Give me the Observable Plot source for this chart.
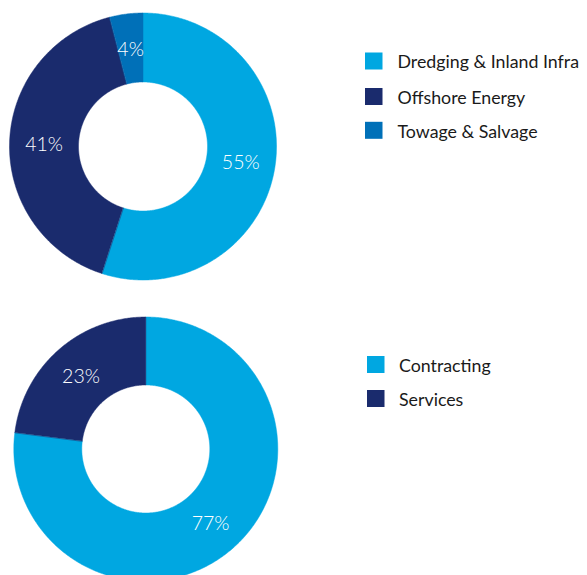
<!DOCTYPE html>
<html>
<head>
<meta charset="utf-8">
<script src="https://cdn.jsdelivr.net/npm/d3@7"></script>
<script src="https://cdn.jsdelivr.net/npm/@observablehq/plot@0.6"></script>
<style>
  html, body { margin: 0; padding: 0; background: #fff; }
  #chart svg { display: block; }
</style>
</head>
<body>
<div id="chart"></div>
<script>
// ---- Data ----
const segmentCategories = ["Dredging & Inland Infra", "Offshore Energy", "Towage & Salvage"];
const segmentValues = [55, 41, 4];
const segmentColors = ["#00A7E1", "#1A2B6D", "#0070B8"];

const activityCategories = ["Contracting", "Services"];
const activityValues = [77, 23];
const activityColors = ["#00A7E1", "#1A2B6D"];

// ---- Layout (pixels) ----
const W = 587, H = 575;
const donuts = [
  {cats: segmentCategories, vals: segmentValues, cols: segmentColors, cx: 142.5, cy: 146, r0: 64.5, r1: 133.5,
   legend: {sx: 365, tx: 397, ys: [61, 96.5, 130.3]}},
  {cats: activityCategories, vals: activityValues, cols: activityColors, cx: 145.3, cy: 448.5, r0: 64, r1: 132,
   legend: {sx: 367, tx: 398.5, ys: [364.5, 398.5]}}
];

const polys = [], labels = [], legendBoxes = [], legendTexts = [];
donuts.forEach((d, di) => {
  const total = d3.sum(d.vals);
  let acc = 0;
  d.vals.forEach((v, i) => {
    const a0 = acc / total * 2 * Math.PI;
    acc += v;
    const a1 = acc / total * 2 * Math.PI;
    const key = `${di}-${i}`;
    const n = Math.max(2, Math.ceil((a1 - a0) / (Math.PI / 360)));
    const pt = (r, a) => [d.cx + r * Math.sin(a), d.cy - r * Math.cos(a)];
    for (let k = 0; k <= n; k++) {
      const [x, y] = pt(d.r1, a0 + (a1 - a0) * k / n);
      polys.push({key, x, y, color: d.cols[i]});
    }
    for (let k = n; k >= 0; k--) {
      const [x, y] = pt(d.r0, a0 + (a1 - a0) * k / n);
      polys.push({key, x, y, color: d.cols[i]});
    }
    const am = (a0 + a1) / 2, rm = (d.r0 + d.r1) / 2;
    const [lx, ly] = pt(rm, am);
    labels.push({x: lx, y: ly, text: `${v}%`});
    legendBoxes.push({x1: d.legend.sx, x2: d.legend.sx + 17.5, y1: d.legend.ys[i] - 8.5, y2: d.legend.ys[i] + 8.5, color: d.cols[i]});
    legendTexts.push({x: d.legend.tx, y: d.legend.ys[i], text: d.cats[i]});
  });
});

const chart = Plot.plot({
  width: W, height: H,
  margin: 0,
  x: {domain: [0, W], axis: null},
  y: {domain: [0, H], axis: null, reverse: true},
  style: {fontFamily: "Lato, 'Open Sans', sans-serif", background: "#fff"},
  marks: [
    Plot.line(polys, {x: "x", y: "y", z: "key", fill: "color", stroke: "color", strokeWidth: 0.5, curve: "linear-closed"}),
    Plot.text(labels, {x: "x", y: "y", text: "text", fill: "white", fontSize: 19.5, fontWeight: 300, textAnchor: "middle", dy: 1}),
    Plot.rect(legendBoxes, {x1: "x1", x2: "x2", y1: "y1", y2: "y2", fill: "color", inset: 0}),
    Plot.text(legendTexts, {x: "x", y: "y", text: "text", fill: "#1a1a1a", fontSize: 17.8, fontWeight: 400, textAnchor: "start", dy: 1})
  ]
});
document.getElementById("chart").appendChild(chart);
</script>
</body>
</html>
